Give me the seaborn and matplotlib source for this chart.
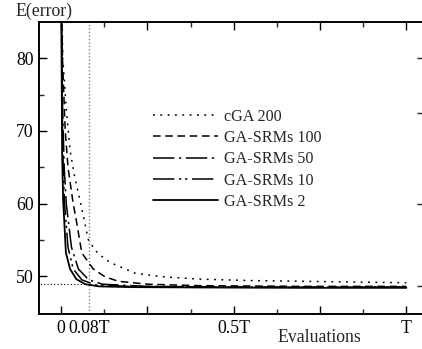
import numpy as np
import pandas as pd
import matplotlib
matplotlib.use("Agg")
import matplotlib.pyplot as plt
import seaborn as sns

## data (x in fractions of T)
x_cga = [0.0, 0.005, 0.015, 0.026, 0.04, 0.055, 0.079, 0.10, 0.128, 0.16, 0.186, 0.215, 0.30, 0.40, 0.55, 0.70, 0.85, 1.0]
y_cga = [92, 80, 73, 67.3, 63.5, 60.4, 55.0, 53.5, 52.3, 51.5, 51.0, 50.4, 49.9, 49.6, 49.4, 49.3, 49.2, 49.1]

x_100 = [0.0, 0.004, 0.012, 0.02, 0.035, 0.044, 0.06, 0.093, 0.128, 0.166, 0.25, 0.40, 0.70, 1.0]
y_100 = [92, 80, 70, 65, 60, 57.7, 53.2, 51.0, 49.9, 49.3, 48.9, 48.7, 48.6, 48.6]

x_50 = [0.0, 0.004, 0.009, 0.015, 0.03, 0.05, 0.08, 0.12, 0.25, 0.50, 1.0]
y_50 = [92, 74, 65, 60, 54, 51, 49.5, 48.9, 48.6, 48.5, 48.5]

x_10 = [0.0, 0.003, 0.006, 0.01, 0.02, 0.035, 0.06, 0.10, 0.20, 0.50, 1.0]
y_10 = [92, 74, 65, 60, 54, 51, 49.5, 48.8, 48.6, 48.5, 48.5]

x_2 = [0.0, 0.003, 0.006, 0.014, 0.026, 0.044, 0.07, 0.11, 0.20, 0.40, 0.70, 1.0]
y_2 = [92, 67, 60.4, 53.2, 51.0, 49.6, 48.9, 48.6, 48.5, 48.45, 48.4, 48.4]

labels = ["cGA 200", "GA-SRMs 100", "GA-SRMs 50", "GA-SRMs 10", "GA-SRMs 2"]
xticks = [0, 0.08, 0.25, 0.5, 0.75, 1.0]
xticklabels = ["0", "0.08T", "", "0.5T", "", "T"]
yticks = [50, 60, 70, 80]
right_ticks = [80, 72.4, 59.9, 48.6]
ref_x, ref_y = 0.08, 48.9

sns.set_style("ticks")
plt.rcParams["font.family"] = ["Liberation Serif", "DejaVu Serif"]

fig = plt.figure(figsize=(4.22, 3.49), dpi=100)
ax = fig.add_axes([0.0924, 0.1003, 0.9106, 0.837])

series = [(x_cga, y_cga), (x_100, y_100), (x_50, y_50), (x_10, y_10), (x_2, y_2)]
styles = [(0, (1.2, 3.6)), (0, (5, 3)), (0, (14, 3, 1.5, 3)),
          (0, (14, 3, 1.5, 2.5, 1.5, 3)), "-"]
widths = [1.1, 1.1, 1.1, 1.1, 1.3]
for (xs, ys), lab, ls, lw in zip(series, labels, styles, widths):
    sns.lineplot(x=xs, y=ys, ax=ax, color="black", label=lab,
                 linestyle=ls, linewidth=lw, estimator=None, sort=False)

ax.axvline(ref_x, color="#808080", linestyle=(0, (1, 1.5)), linewidth=1.0, zorder=0)
ax.plot([-0.1, ref_x], [ref_y, ref_y], color="black", linestyle=(0, (1, 2)), linewidth=0.8)

ax.set_xlim(-0.064, 1.049)
ax.set_ylim(44.8, 85)
ax.set_xticks(xticks)
ax.set_xticklabels(xticklabels)
ax.set_xticks(np.arange(0, 1.01, 0.125), minor=True)
ax.set_yticks(yticks)
ax.set_yticks([55, 65, 75], minor=True)
ax.tick_params(axis="both", which="major", direction="in", length=6, width=1,
               labelsize=12.8, colors="black", pad=4)
ax.tick_params(axis="both", which="minor", direction="in", length=3.5, width=1)
ax.tick_params(axis="x", which="both", top=True)
ax.tick_params(axis="y", which="both", right=False)
for t in [ax.xaxis.get_major_ticks()[1]]:
    t.tick1line.set_visible(False)
    t.tick2line.set_visible(False)

rax = ax.twinx()
rax.set_ylim(ax.get_ylim())
rax.set_yticks(right_ticks)
rax.set_yticklabels([""] * len(right_ticks))
rax.tick_params(axis="y", direction="in", length=4, width=1)
rax.grid(False)

for a in (ax, rax):
    for s in a.spines.values():
        s.set_linewidth(1.2)
        s.set_color("black")
        s.set_visible(True)

ax.set_xlabel("")
ax.set_ylabel("")
fig.text(0.036, 0.967, "E(error)", fontsize=12.8, ha="left", va="center")
fig.text(319 / 422, 1 - 337 / 349, "Evaluations", fontsize=12.8, ha="center", va="center")

leg = ax.legend(loc="upper left", bbox_to_anchor=(0.297, 0.703), frameon=False,
                fontsize=11.6, handlelength=4.0, handletextpad=0.4,
                labelspacing=0.33, borderaxespad=0, borderpad=0)

fig.savefig("out.png", dpi=100)
